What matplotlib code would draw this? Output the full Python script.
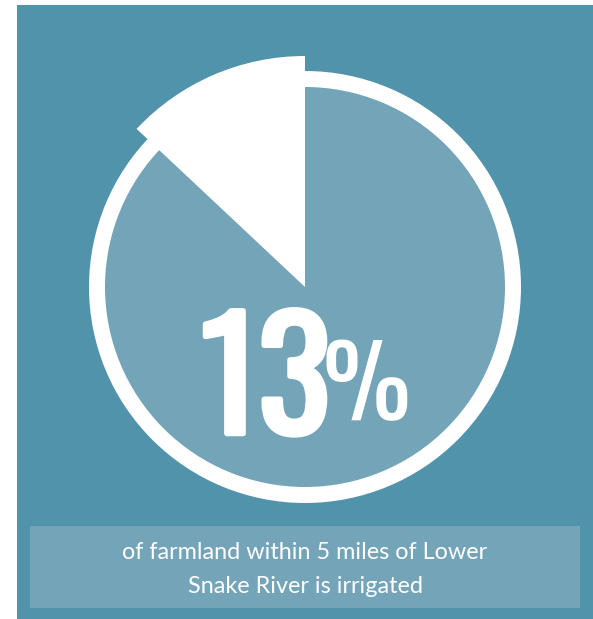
import matplotlib
matplotlib.use("Agg")
import matplotlib.pyplot as plt
from matplotlib.patches import Rectangle, Circle, Wedge
import matplotlib.patheffects as pe

# data
labels = ["Irrigated", "Not irrigated"]
shares = [13, 87]
headline = "13"
unit = "%"
caption_lines = ["of farmland within 5 miles of Lower", "Snake River is irrigated"]

BG = "#5193AA"
LIGHT = "#74A4B7"
W, H = 593, 619

fig = plt.figure(figsize=(W / 100, H / 100), dpi=100)
fig.patch.set_facecolor("white")
ax = fig.add_axes([0, 0, 1, 1])
ax.set_xlim(0, W)
ax.set_ylim(H, 0)
ax.set_aspect("equal")
ax.axis("off")

ax.add_patch(Rectangle((17, 5), W - 17, H - 5, color=BG, lw=0))

cx, cy = 305, 287
r_out, r_in, r_wedge = 216, 200, 231

ax.add_patch(Circle((cx, cy), r_out, color="white", lw=0))
ax.add_patch(Circle((cx, cy), r_in, color=LIGHT, lw=0))

ang = shares[0] / sum(shares) * 360
ax.add_patch(Wedge((cx, cy), r_wedge, -90 - ang, -90, color="white", lw=0))

ax.text(201, 433.5, headline, color="white", fontsize=109,
        family=["Oswald", "DejaVu Sans"], ha="left", va="baseline",
        path_effects=[pe.withStroke(linewidth=4, foreground="white")])
ax.text(322, 420, unit, color="white", fontsize=71,
        family=["Oswald", "DejaVu Sans"], ha="left", va="baseline")

ax.add_patch(Rectangle((30, 526), 550, 82, color=LIGHT, lw=0))
for line, yb in zip(caption_lines, [559, 593]):
    ax.text(305, yb, line, color="white", fontsize=16.8, family=["Lato", "DejaVu Sans"],
            ha="center", va="baseline")

fig.savefig("out.png", dpi=100, facecolor=fig.get_facecolor())
